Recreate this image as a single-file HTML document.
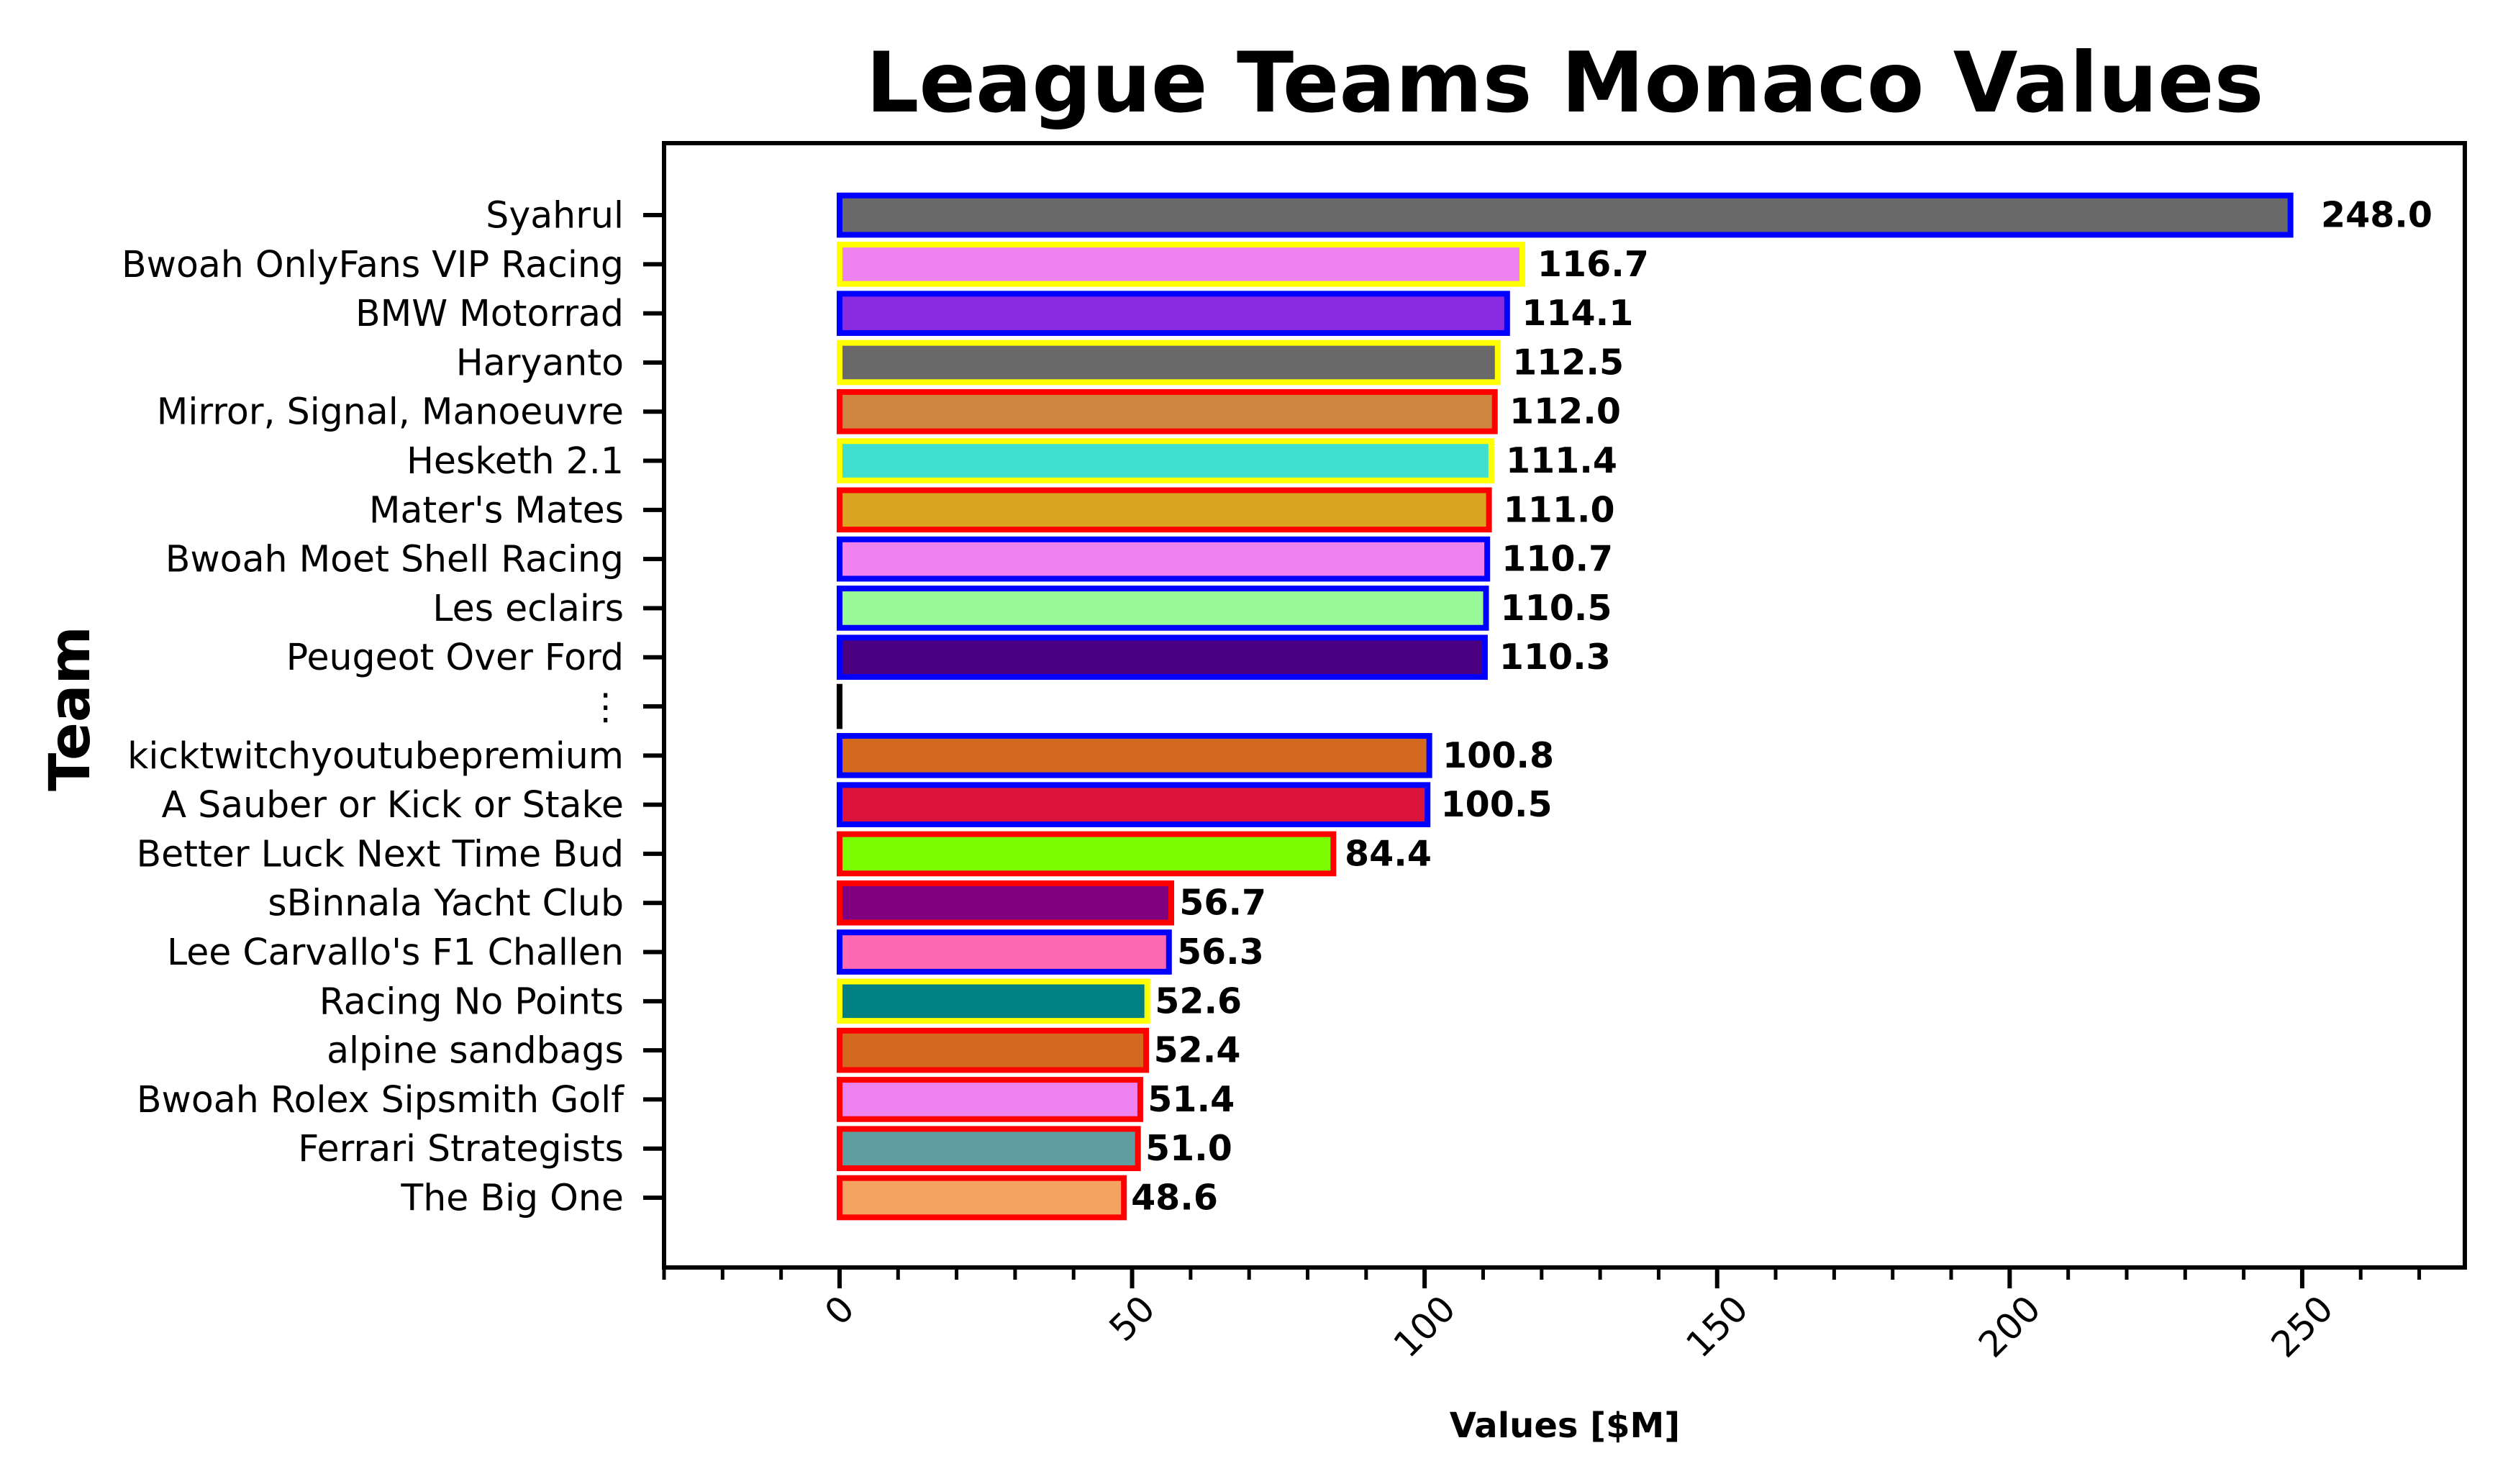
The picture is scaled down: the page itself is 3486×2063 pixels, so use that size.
<!DOCTYPE html>
<html><head><meta charset="utf-8"><style>html,body{margin:0;padding:0;background:#fff}svg{display:block}</style></head>
<body>
<svg id="chart" width="3486" height="2063" viewBox="0 0 3486 2063" xmlns="http://www.w3.org/2000/svg" font-family="'DejaVu Sans','Liberation Sans',sans-serif">
<rect x="0" y="0" width="3486" height="2063" fill="#fff"/>
<text x="2175" y="155" text-anchor="middle" font-size="116" font-weight="bold">League Teams Monaco Values</text>
<g id="plot"></g>
<text x="2175" y="1998" text-anchor="middle" font-size="48" font-weight="bold">Values [$M]</text>
<text transform="translate(124,985) rotate(-90)" text-anchor="middle" font-size="78" font-weight="bold">Team</text>
</svg>
<script>
const teams = ["Syahrul","Bwoah OnlyFans VIP Racing","BMW Motorrad","Haryanto","Mirror, Signal, Manoeuvre","Hesketh 2.1","Mater's Mates","Bwoah Moet Shell Racing","Les eclairs","Peugeot Over Ford","⋮","kicktwitchyoutubepremium","A Sauber or Kick or Stake","Better Luck Next Time Bud","sBinnala Yacht Club","Lee Carvallo's F1 Challen","Racing No Points","alpine sandbags","Bwoah Rolex Sipsmith Golf","Ferrari Strategists","The Big One"];
const values = [248.0,116.7,114.1,112.5,112.0,111.4,111.0,110.7,110.5,110.3,0,100.8,100.5,84.4,56.7,56.3,52.6,52.4,51.4,51.0,48.6];
const valueLabels = ["248.0","116.7","114.1","112.5","112.0","111.4","111.0","110.7","110.5","110.3","","100.8","100.5","84.4","56.7","56.3","52.6","52.4","51.4","51.0","48.6"];
const fills = ["#696969","#EE82EE","#8A2BE2","#696969","#CD853F","#40E0D0","#DAA520","#EE82EE","#98FB98","#4B0082","#000000","#D2691E","#DC143C","#7CFC00","#800080","#FF69B4","#008080","#D2691E","#EE82EE","#5F9EA0","#F4A460"];
const edges = ["#0000FF","#FFFF00","#0000FF","#FFFF00","#FF0000","#FFFF00","#FF0000","#0000FF","#0000FF","#0000FF","#000000","#0000FF","#0000FF","#FF0000","#FF0000","#0000FF","#FFFF00","#FF0000","#FF0000","#FF0000","#FF0000"];
const xTicks = [0,50,100,150,200,250];
const xTickLabels = ["0","50","100","150","200","250"];

const NS = "http://www.w3.org/2000/svg";
const AX = {l:923, r:3426, t:199, b:1762};
const XMIN = -30, XMAX = 277.8;
const YMIN = -1.465, YMAX = 21.42;
function xs(v){ return AX.l + (v - XMIN) / (XMAX - XMIN) * (AX.r - AX.l); }
function ys(i){ return AX.t + (i - YMIN) / (YMAX - YMIN) * (AX.b - AX.t); }
const plot = document.getElementById('plot');
function mk(tag, attrs){ const e = document.createElementNS(NS, tag); for (const k in attrs) e.setAttribute(k, attrs[k]); plot.appendChild(e); return e; }

const step = ys(1) - ys(0);
const bh = step * 0.8;
for (let i = 0; i < teams.length; i++) {
  const y = ys(i);
  const x0 = xs(0), x1 = xs(values[i]);
  if (Math.abs(x1 - x0) < 0.5) {
    const r = mk('line', {x1: x0, x2: x0, y1: y - bh/2 - 4, y2: y + bh/2 + 4, stroke: edges[i], 'stroke-width': 8});
    
    
  } else {
    const r = mk('rect', {x: Math.min(x0,x1), y: y - bh/2, width: Math.abs(x1-x0), height: bh, fill: fills[i], stroke: edges[i], 'stroke-width': 8});
    
    
  }
  if (valueLabels[i]) {
    const t = mk('text', {x: xs(values[i] * 1.02) + 2, y: y, 'dominant-baseline': 'central', 'font-size': 49, 'font-weight': 'bold'});
    t.textContent = valueLabels[i];
    
    
  }
  const tk = mk('line', {x1: AX.l - 29, x2: AX.l, y1: y, y2: y, stroke: '#000', 'stroke-width': 6});
  
  
  const tl = mk('text', {x: 867, y: y, 'text-anchor': 'end', 'dominant-baseline': 'central', 'font-size': 50.5});
  tl.textContent = teams[i];
  
  
}
for (let v = -30; v <= 270; v += 10) {
  const isMajor = xTicks.indexOf(v) >= 0;
  const m = mk('line', {x1: xs(v), x2: xs(v), y1: AX.b, y2: AX.b + (isMajor ? 29 : 17), stroke: '#000', 'stroke-width': isMajor ? 6 : 5});
  
  
}
for (let k = 0; k < xTicks.length; k++) {
  const s = xTickLabels[k];
  const w = s.length * 0.636 * 50, h = 58;
  const bb = (w + h) * 0.707;
  const t = mk('text', {transform: 'translate(' + xs(xTicks[k]) + ',' + (1790 + bb/2) + ') rotate(-45)', 'text-anchor': 'middle', 'dominant-baseline': 'central', 'font-size': 50});
  t.textContent = s;
  
  
}
const fr = mk('rect', {x: AX.l, y: AX.t, width: AX.r - AX.l, height: AX.b - AX.t, fill: 'none', stroke: '#000', 'stroke-width': 6});


</script>
</body></html>
